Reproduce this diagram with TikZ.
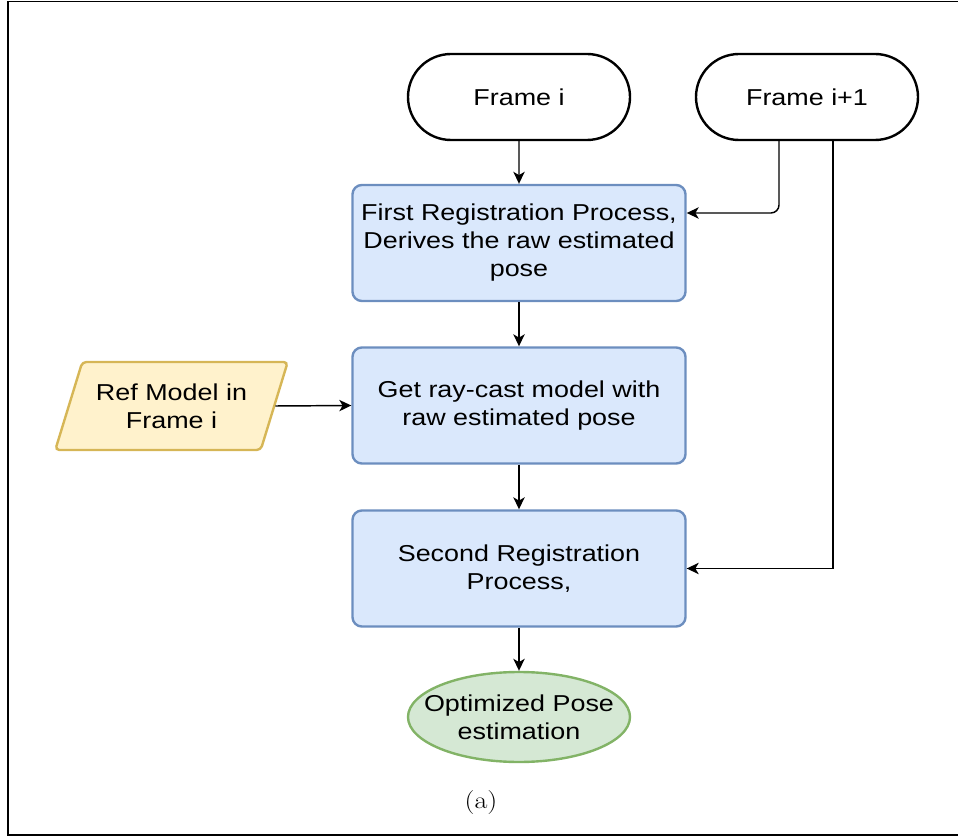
\documentclass[tikz,border=0pt]{standalone}
\usepackage{fontspec}
\setmainfont{Liberation Sans}[FakeStretch=1.17]
\newfontfamily\capfont{Latin Modern Roman}[FakeStretch=1.17]
\usetikzlibrary{shapes.geometric,shapes.misc,arrows.meta}

\definecolor{blueFill}{HTML}{DAE8FC}
\definecolor{blueLine}{HTML}{6C8EBF}
\definecolor{greenFill}{HTML}{D5E8D4}
\definecolor{greenLine}{HTML}{82B366}
\definecolor{yellowFill}{HTML}{FFF2CC}
\definecolor{yellowLine}{HTML}{D6B656}

\tikzset{
  txt/.style={font=\fontsize{17.25}{21}\selectfont, align=center, inner sep=0pt},
  frame/.style={txt, rounded rectangle, draw=black, line width=1.8pt,
    minimum width=166.5pt, minimum height=64.5pt},
  block/.style={txt, rectangle, rounded corners=7pt, draw=blueLine, fill=blueFill,
    line width=1.8pt, minimum width=249.75pt, minimum height=87pt},
  result/.style={txt, ellipse, draw=greenLine, fill=greenFill, line width=1.8pt,
    inner xsep=-12.5pt, minimum width=166.5pt, minimum height=67.5pt},
  data/.style={txt, trapezium, trapezium left angle=63, trapezium right angle=117,
    trapezium stretches=true, rounded corners=3pt, draw=yellowLine, fill=yellowFill,
    line width=1.8pt, minimum width=174.75pt, minimum height=66pt},
  arr/.style={-{Stealth[length=9pt,width=8.5pt,inset=2.5pt]}, line width=1.1pt}
}

\begin{document}
\begin{tikzpicture}[x=0.75pt,y=-0.75pt]
\useasboundingbox (0,0) rectangle (958,838);

% outer frame
\draw[line width=1.4pt] (8,1.5) -- (958,1.5);
\draw[line width=2.2pt] (958,835) -- (8,835) -- (8,1.5);

% inputs
\node[frame] (fi) at (519,97) {Frame i};
\node[frame] (fn) at (807,97) {Frame i+1};
\node[data] (ref) at (171.5,406) {Ref Model in\\Frame i};

% processing steps
\node[block] (reg1) at (519,243) {First Registration Process,\\Derives the raw estimated\\pose};
\node[block] (cast) at (519,405.5) {Get ray-cast model with\\raw estimated pose};
\node[block] (reg2) at (519,568.5) {Second Registration\\Process,};
\node[result] (pose) at (519,717) {Optimized Pose\\estimation};

\draw[arr] (fi) -- (reg1);
\draw[arr] (reg1) -- (cast);
\draw[arr] (cast) -- (reg2);
\draw[arr] (reg2) -- (pose);
\draw[arr] (ref.east) -- (cast.west);
\draw[arr, rounded corners=6pt] ([xshift=-21pt]fn.south) |- ([yshift=22.5pt]reg1.east);
\draw[arr] ([xshift=19.5pt]fn.south) |- (reg2.east);

\node[font=\capfont\fontsize{18}{22}\selectfont] (cap) at (481,803) {(a)};
\end{tikzpicture}
\end{document}
